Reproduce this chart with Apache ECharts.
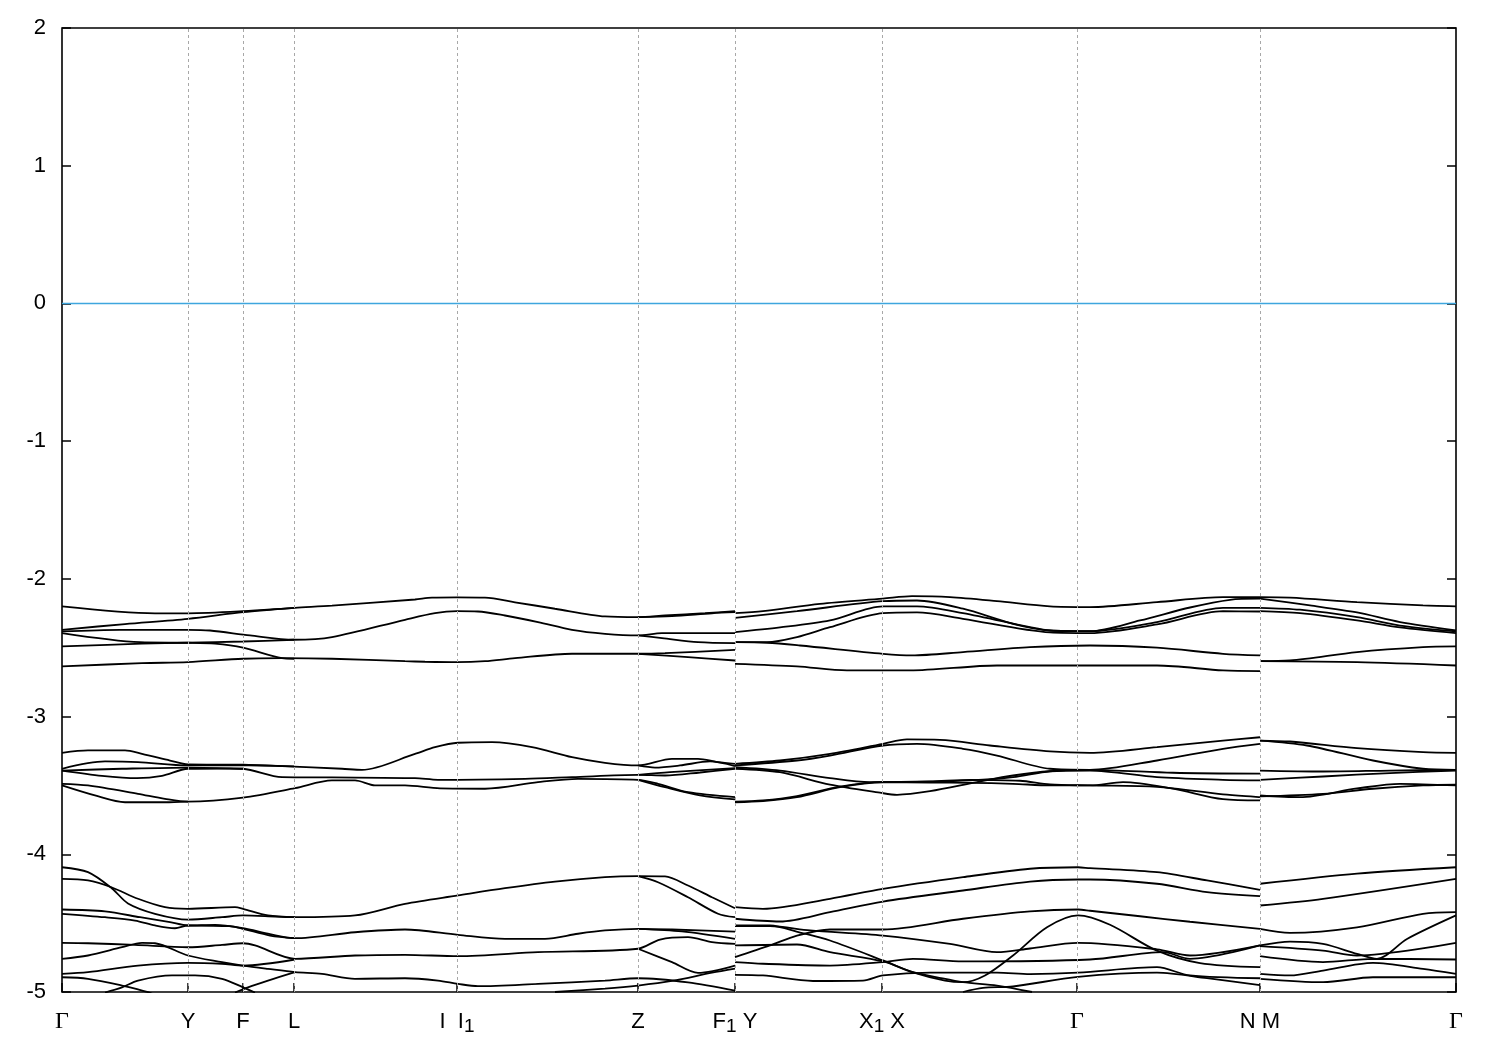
<!DOCTYPE html>
<html><head><meta charset="utf-8">
<script src="https://cdn.jsdelivr.net/npm/echarts@6/dist/echarts.min.js"></script>
<style>html,body{margin:0;padding:0;background:#fff}#c{width:1500px;height:1050px}</style>
</head><body><div id="c"></div>
<script>
// k-path nodes and labels
const kNodes = [0, 1.26, 1.81, 2.32, 3.95, 5.76, 6.73, 8.20, 10.15, 11.98, 13.94];
const kLabels = ['{g|Γ}', '{n|Y}', '{n|F}', '{n|L}', '{n|I  I}{s|1}', '{n|Z}', '{n|F}{s|1}{n| Y}', '{n|X}{s|1}{n| X}', '{g|Γ}', '{n|N M}', '{g|Γ}'];
const yTicks = [-5, -4, -3, -2, -1, 0, 1, 2];

// ---- upper group, path Γ–F1
const tA1 = [[0,-2.20],[0.93,-2.25],[1.26,-2.25],[1.81,-2.235],[2.33,-2.21],[2.70,-2.195],[3.53,-2.15],[3.70,-2.137],[3.95,-2.135],[4.23,-2.137],[4.53,-2.17],[4.93,-2.217],[5.43,-2.273],[5.76,-2.278],[6.03,-2.266],[6.43,-2.249],[6.73,-2.235]];
const tA1b = [[5.76,-2.278],[6.1,-2.27],[6.5,-2.25],[6.73,-2.242]];
const tA2 = [[0,-2.37],[0.63,-2.328],[1.26,-2.29],[1.81,-2.242],[2.32,-2.21]];
const tA3 = [[0,-2.382],[0.58,-2.37],[1.26,-2.37],[1.48,-2.375],[1.88,-2.411],[2.32,-2.442],[2.70,-2.423],[3.43,-2.297],[3.73,-2.249],[3.95,-2.235],[4.16,-2.237],[4.43,-2.266],[4.76,-2.314],[5.10,-2.37],[5.43,-2.399],[5.76,-2.411],[6.0,-2.394],[6.73,-2.394]];
const tA3b = [[5.76,-2.411],[6.0,-2.43],[6.36,-2.46],[6.73,-2.467]];
const tA4 = [[0,-2.394],[0.78,-2.46],[1.26,-2.464],[1.53,-2.471],[1.81,-2.50],[2.20,-2.576],[2.32,-2.58]];
const tA6 = [[0,-2.491],[0.80,-2.471],[1.26,-2.464],[1.81,-2.455],[2.32,-2.442]];
const tA5 = [[0,-2.636],[0.80,-2.612],[1.26,-2.605],[1.81,-2.58],[2.20,-2.576],[2.70,-2.58],[3.43,-2.598],[3.63,-2.602],[3.95,-2.605],[4.23,-2.598],[4.53,-2.576],[5.10,-2.544],[5.76,-2.544],[6.03,-2.54],[6.73,-2.515]];
const tA5b = [[5.76,-2.544],[6.26,-2.569],[6.73,-2.593]];
// ---- upper group, path Y–N
const tB1 = [[6.73,-2.249],[7.01,-2.235],[7.58,-2.181],[8.21,-2.144],[8.50,-2.126],[8.88,-2.133],[9.35,-2.162],[9.88,-2.20],[10.28,-2.205],[10.95,-2.169],[11.61,-2.133],[11.98,-2.133]];
const tB2 = [[6.73,-2.283],[7.35,-2.235],[8.21,-2.162],[8.55,-2.157],[9.01,-2.217],[9.51,-2.326],[9.88,-2.375],[10.28,-2.38],[10.78,-2.302],[11.28,-2.208],[11.68,-2.152],[11.98,-2.144]];
const tB3 = [[6.73,-2.387],[7.18,-2.353],[7.68,-2.302],[8.21,-2.20],[8.55,-2.20],[9.01,-2.249],[9.68,-2.351],[9.88,-2.375],[10.28,-2.38],[10.95,-2.314],[11.61,-2.21],[11.98,-2.21]];
const tB4 = [[6.73,-2.46],[7.05,-2.46],[7.35,-2.423],[7.68,-2.351],[8.21,-2.249],[8.55,-2.244],[9.01,-2.29],[9.88,-2.389],[10.28,-2.394],[10.95,-2.331],[11.61,-2.235],[11.98,-2.237]];
const tB5 = [[6.73,-2.46],[7.05,-2.464],[7.38,-2.484],[8.21,-2.544],[8.50,-2.556],[9.01,-2.532],[9.68,-2.496],[10.28,-2.484],[10.95,-2.50],[11.61,-2.544],[11.98,-2.556]];
const tB6 = [[6.73,-2.617],[7.35,-2.636],[7.85,-2.665],[8.48,-2.665],[9.35,-2.629],[10.28,-2.629],[10.95,-2.629],[11.61,-2.665],[11.98,-2.670]];
// ---- upper group, path M–Γ
const tC1 = [[11.98,-2.133],[12.28,-2.137],[12.95,-2.169],[13.61,-2.193],[13.94,-2.20]];
const tC2 = [[11.98,-2.144],[12.48,-2.193],[12.95,-2.244],[13.38,-2.314],[13.94,-2.375]];
const tC3 = [[11.98,-2.21],[12.38,-2.224],[12.95,-2.278],[13.38,-2.339],[13.94,-2.382]];
const tC4 = [[11.98,-2.235],[12.38,-2.249],[12.95,-2.302],[13.38,-2.353],[13.94,-2.394]];
const tC5 = [[11.98,-2.598],[12.28,-2.593],[12.95,-2.532],[13.61,-2.496],[13.94,-2.491]];
const tC6 = [[11.98,-2.598],[12.95,-2.605],[13.94,-2.629]];

// ---- middle group
const mA1 = [[0,-3.263],[0.26,-3.246],[0.63,-3.246],[0.80,-3.271],[1.08,-3.319],[1.26,-3.348],[1.81,-3.35],[2.20,-3.36],[2.80,-3.379],[3.00,-3.387],[3.53,-3.271],[3.73,-3.222],[3.96,-3.19],[4.30,-3.186],[4.70,-3.222],[5.10,-3.295],[5.43,-3.336],[5.76,-3.355],[6.10,-3.307],[6.36,-3.307],[6.56,-3.331],[6.73,-3.343]];
const mA1b = [[5.76,-3.355],[5.93,-3.37],[6.18,-3.355],[6.48,-3.326],[6.73,-3.36]];
const mA2 = [[0,-3.379],[0.43,-3.326],[0.76,-3.331],[1.26,-3.355],[1.81,-3.352],[2.32,-3.362]];
const mA3 = [[0,-3.392],[0.40,-3.43],[0.75,-3.447],[1.00,-3.43],[1.26,-3.379],[1.68,-3.377],[1.81,-3.379],[2.20,-3.44],[2.70,-3.442],[3.53,-3.447],[3.76,-3.459],[4.63,-3.452],[5.10,-3.44],[5.76,-3.423],[6.03,-3.428],[6.38,-3.406],[6.73,-3.379]];
const mA3b = [[5.76,-3.423],[6.08,-3.404],[6.73,-3.375]];
const mA4 = [[0,-3.392],[0.60,-3.379],[1.26,-3.37],[1.81,-3.379]];
const mA5 = [[0,-3.488],[0.26,-3.50],[0.76,-3.561],[1.03,-3.597],[1.26,-3.617],[1.81,-3.588],[2.33,-3.52],[2.70,-3.464],[2.93,-3.464],[3.13,-3.50],[3.43,-3.50],[3.78,-3.522],[4.23,-3.524],[4.76,-3.476],[5.16,-3.452],[5.76,-3.459],[5.96,-3.488],[6.26,-3.549],[6.73,-3.585]];
const mA6 = [[0,-3.50],[0.33,-3.573],[0.63,-3.622],[1.03,-3.622],[1.26,-3.617]];
const mA6b = [[5.76,-3.459],[6.03,-3.513],[6.38,-3.573],[6.73,-3.602]];
const mB1 = [[6.73,-3.343],[7.18,-3.319],[7.68,-3.271],[8.21,-3.198],[8.45,-3.166],[8.78,-3.169],[9.28,-3.21],[9.88,-3.253],[10.28,-3.263],[10.95,-3.222],[11.61,-3.174],[11.98,-3.15]];
const mB2 = [[6.73,-3.355],[7.35,-3.319],[7.68,-3.283],[8.21,-3.21],[8.55,-3.198],[9.01,-3.234],[9.35,-3.283],[9.88,-3.379],[10.28,-3.387],[10.95,-3.319],[11.61,-3.234],[11.98,-3.198]];
const mB3 = [[6.73,-3.367],[7.18,-3.392],[7.68,-3.447],[8.08,-3.476],[8.68,-3.471],[9.08,-3.459],[9.58,-3.466],[9.88,-3.493],[10.28,-3.50],[10.95,-3.51],[11.61,-3.565],[11.98,-3.585]];
const mB4 = [[6.73,-3.379],[7.18,-3.404],[7.68,-3.495],[8.18,-3.553],[8.35,-3.568],[8.68,-3.542],[9.15,-3.476],[9.51,-3.428],[9.88,-3.397],[10.28,-3.392],[10.95,-3.44],[11.61,-3.459],[11.98,-3.464]];
const mB5 = [[6.73,-3.622],[7.01,-3.614],[7.35,-3.585],[7.78,-3.513],[8.21,-3.476],[8.68,-3.473],[9.08,-3.464],[9.51,-3.44],[9.88,-3.397],[10.28,-3.387],[11.11,-3.408],[11.98,-3.415]];
const mB6 = [[6.73,-3.617],[7.01,-3.609],[7.35,-3.577],[7.78,-3.508],[8.21,-3.476],[8.68,-3.479],[9.08,-3.481],[9.51,-3.488],[9.88,-3.50],[10.28,-3.50],[10.61,-3.476],[11.11,-3.524],[11.61,-3.60],[11.98,-3.609]];
const mC1 = [[11.98,-3.174],[12.28,-3.181],[12.95,-3.229],[13.61,-3.258],[13.94,-3.263]];
const mC2 = [[11.98,-3.174],[12.45,-3.21],[13.11,-3.319],[13.61,-3.379],[13.94,-3.387]];
const mC3 = [[11.98,-3.392],[12.61,-3.399],[13.28,-3.392],[13.94,-3.387]];
const mC4 = [[11.98,-3.459],[12.61,-3.435],[13.28,-3.41],[13.94,-3.392]];
const mC5 = [[11.98,-3.58],[12.61,-3.561],[13.11,-3.524],[13.61,-3.50],[13.94,-3.495]];
const mC6 = [[11.98,-3.573],[12.38,-3.585],[12.95,-3.522],[13.38,-3.488],[13.94,-3.50]];

// ---- lower group
const bA1 = [[0,-4.094],[0.26,-4.13],[0.50,-4.248],[0.66,-4.357],[0.93,-4.432],[1.26,-4.474],[1.60,-4.457],[1.81,-4.444],[2.13,-4.452],[2.33,-4.457],[2.93,-4.444],[3.43,-4.36],[3.96,-4.299],[4.43,-4.246],[4.93,-4.198],[5.43,-4.166],[5.76,-4.159],[6.03,-4.161],[6.26,-4.227],[6.50,-4.312],[6.73,-4.392]];
const bA2 = [[0,-4.178],[0.26,-4.19],[0.50,-4.241],[0.76,-4.323],[1.03,-4.384],[1.26,-4.396],[1.73,-4.384],[1.81,-4.396],[2.06,-4.444],[2.33,-4.457]];
const bA2b = [[5.76,-4.159],[5.96,-4.203],[6.26,-4.312],[6.56,-4.432],[6.73,-4.457]];
const bA3 = [[0,-4.401],[0.43,-4.415],[0.78,-4.457],[1.08,-4.493],[1.26,-4.517],[1.53,-4.512],[1.81,-4.537],[2.08,-4.58],[2.33,-4.609],[2.93,-4.566],[3.43,-4.546],[3.96,-4.585],[4.43,-4.614],[4.83,-4.614],[5.16,-4.577],[5.43,-4.553],[5.76,-4.541],[6.10,-4.546],[6.73,-4.561]];
const bA3b = [[5.76,-4.541],[6.2,-4.56],[6.73,-4.614]];
const bA4 = [[0,-4.432],[0.43,-4.457],[0.73,-4.481],[0.93,-4.517],[1.13,-4.537],[1.26,-4.517],[1.68,-4.522],[1.81,-4.541],[2.08,-4.59],[2.33,-4.609]];
const bA5 = [[0,-4.643],[0.26,-4.646],[0.73,-4.658],[1.26,-4.675],[1.60,-4.658],[1.81,-4.646],[1.93,-4.662],[2.33,-4.759],[2.93,-4.735],[3.43,-4.73],[3.96,-4.74],[4.76,-4.711],[5.76,-4.686],[5.98,-4.619],[6.26,-4.602],[6.50,-4.638],[6.73,-4.651]];
const bA5b = [[5.76,-4.686],[6.10,-4.783],[6.36,-4.861],[6.73,-4.808]];
const bA6 = [[0,-4.759],[0.26,-4.735],[0.60,-4.675],[0.80,-4.643],[0.93,-4.646],[1.26,-4.735],[1.60,-4.783],[1.81,-4.808],[2.06,-4.832],[2.33,-4.856],[2.60,-4.868],[2.93,-4.904],[3.43,-4.90],[3.76,-4.917],[3.96,-4.941],[4.16,-4.958],[4.76,-4.941],[5.43,-4.917],[5.76,-4.90],[6.26,-4.93],[6.73,-4.99]];
const bA7 = [[0,-4.868],[0.26,-4.856],[0.76,-4.808],[1.26,-4.788],[1.60,-4.795],[1.81,-4.808],[2.33,-4.764]];
const bA8 = [[0,-4.893],[0.26,-4.904],[0.60,-4.953],[0.86,-5.001],[0.98,-5.04]];
const bA9 = [[0.43,-5.004],[0.60,-4.966],[0.76,-4.917],[1.10,-4.88],[1.33,-4.88],[1.60,-4.904],[1.81,-4.966],[1.93,-5.004]];
const bA10 = [[1.73,-5.004],[1.86,-4.966],[2.06,-4.917],[2.33,-4.856]];
const bA11 = [[4.93,-5.0],[5.43,-4.975],[5.76,-4.953],[6.10,-4.92],[6.50,-4.86],[6.73,-4.83]];
const bB1 = [[6.73,-4.384],[7.01,-4.396],[7.68,-4.323],[8.21,-4.251],[9.01,-4.166],[9.68,-4.105],[10.16,-4.094],[10.28,-4.101],[10.95,-4.13],[11.45,-4.19],[11.98,-4.258]];
const bB2 = [[6.73,-4.468],[7.18,-4.488],[7.68,-4.42],[8.21,-4.343],[9.01,-4.263],[9.68,-4.198],[10.16,-4.183],[10.28,-4.183],[10.95,-4.214],[11.45,-4.275],[11.98,-4.304]];
const bB3 = [[6.73,-4.747],[7.08,-4.662],[7.35,-4.59],[7.68,-4.546],[8.21,-4.546],[9.01,-4.468],[9.68,-4.415],[10.16,-4.401],[10.28,-4.41],[10.78,-4.45],[11.28,-4.49],[11.98,-4.541]];
const bB4 = [[6.73,-4.517],[7.08,-4.517],[7.38,-4.568],[7.68,-4.626],[8.21,-4.771],[8.51,-4.858],[8.83,-4.917],[9.01,-4.929],[9.23,-4.88],[9.51,-4.735],[9.85,-4.53],[10.16,-4.444],[10.48,-4.512],[10.95,-4.70],[11.38,-4.79],[11.98,-4.82]];
const bB5 = [[6.73,-4.522],[7.08,-4.522],[7.48,-4.553],[8.21,-4.59],[8.88,-4.651],[9.35,-4.711],[9.68,-4.684],[10.16,-4.643],[10.95,-4.69],[11.28,-4.735],[11.98,-4.662]];
const bB6 = [[6.73,-4.783],[7.01,-4.795],[7.68,-4.808],[8.21,-4.783],[8.51,-4.759],[9.01,-4.778],[10.28,-4.764],[11.01,-4.711],[11.28,-4.759],[11.98,-4.662]];
const bB7 = [[6.73,-4.662],[7.35,-4.655],[7.68,-4.711],[8.21,-4.778],[8.51,-4.856],[8.75,-4.893],[9.01,-4.929],[9.35,-4.953],[9.70,-5.0]];
const bB8 = [[6.73,-4.875],[7.01,-4.88],[7.51,-4.92],[8.01,-4.917],[8.21,-4.88],[8.68,-4.86],[9.35,-4.86],[9.68,-4.87],[10.16,-4.86],[10.95,-4.82],[11.28,-4.88],[11.98,-4.90]];
const bB9 = [[9.01,-5.0],[9.21,-4.97],[9.51,-4.96],[10.16,-4.89],[10.95,-4.86],[11.45,-4.90],[11.98,-4.95]];
const bC1 = [[11.98,-4.214],[12.95,-4.14],[13.94,-4.094]];
const bC2 = [[11.98,-4.372],[12.61,-4.323],[13.94,-4.178]];
const bC3 = [[11.98,-4.541],[12.28,-4.57],[12.95,-4.53],[13.61,-4.432],[13.94,-4.42]];
const bC4 = [[11.98,-4.662],[12.28,-4.634],[12.61,-4.651],[12.95,-4.723],[13.15,-4.759],[13.45,-4.615],[13.94,-4.444]];
const bC5 = [[11.98,-4.667],[12.61,-4.699],[12.95,-4.735],[13.94,-4.643]];
const bC6 = [[11.98,-4.74],[12.61,-4.783],[13.11,-4.759],[13.94,-4.764]];
const bC7 = [[11.98,-4.868],[12.28,-4.88],[12.61,-4.844],[13.11,-4.788],[13.61,-4.832],[13.94,-4.868]];
const bC8 = [[11.98,-4.904],[12.61,-4.929],[13.11,-4.893],[13.94,-4.893]];

const bands = [tA1,tA1b,tA2,tA3,tA3b,tA4,tA6,tA5,tA5b,tB1,tB2,tB3,tB4,tB5,tB6,tC1,tC2,tC3,tC4,tC5,tC6,
  mA1,mA1b,mA2,mA3,mA3b,mA4,mA5,mA6,mA6b,mB1,mB2,mB3,mB4,mB5,mB6,mC1,mC2,mC3,mC4,mC5,mC6,
  bA1,bA2,bA2b,bA3,bA3b,bA4,bA5,bA5b,bA6,bA7,bA8,bA9,bA10,bA11,bB1,bB2,bB3,bB4,bB5,bB6,bB7,bB8,bB9,
  bC1,bC2,bC3,bC4,bC5,bC6,bC7,bC8];
const fermi = [[0,0],[13.94,0]];

const chart = echarts.init(document.getElementById('c'), null, {renderer:'canvas'});
const series = bands.map(d => ({
  type:'line', data:d, symbol:'none', smooth:0.3, clip:true, silent:true,
  lineStyle:{color:'#000', width:1.8}
}));
series.unshift({
  type:'line', data:fermi, symbol:'none', silent:true,
  lineStyle:{color:'#3FA6DE', width:1.6},
  markLine:{silent:true, symbol:'none', animation:false,
    label:{show:false},
    lineStyle:{type:[3,3], color:'#a8a8a8', width:1},
    data: kNodes.slice(1, -1).map(v => ({xAxis:v}))}
});
const labelMap = {};
kNodes.forEach((v,i)=>{labelMap[v.toFixed(2)] = kLabels[i];});
chart.setOption({
  animation:false,
  grid:{left:62, right:44, top:28, bottom:58, show:true, borderColor:'#000', borderWidth:1.6},
  xAxis:{type:'value', min:0, max:13.94,
    axisLine:{show:false, onZero:false}, splitLine:{show:false},
    axisTick:{show:true, inside:true, length:9, customValues:kNodes, lineStyle:{color:'#000', width:1.5}},
    axisLabel:{show:true, margin:17, customValues:kNodes,
      formatter: v => labelMap[v.toFixed(2)] || '',
      rich:{
        n:{fontSize:22, fontFamily:'Liberation Sans', color:'#000', lineHeight:26, verticalAlign:'middle'},
        g:{fontSize:24, fontFamily:'Liberation Serif', color:'#000', lineHeight:26, verticalAlign:'middle'},
        s:{fontSize:19, fontFamily:'Liberation Sans', color:'#000', lineHeight:22, verticalAlign:'middle', padding:[10,0,0,0]}
      }}},
  yAxis:[{type:'value', min:-5, max:2, interval:1,
    axisLine:{show:false, onZero:false}, splitLine:{show:false},
    axisTick:{show:true, inside:true, length:9, lineStyle:{color:'#000', width:1.5}},
    axisLabel:{fontSize:22, fontFamily:'Liberation Sans', color:'#000', margin:16}},
   {type:'value', min:-5, max:2, interval:1, position:'right',
    axisLine:{show:false, onZero:false}, splitLine:{show:false},
    axisTick:{show:true, inside:true, length:9, lineStyle:{color:'#000', width:1.5}},
    axisLabel:{show:false}}],
  series: series
});
</script></body></html>
